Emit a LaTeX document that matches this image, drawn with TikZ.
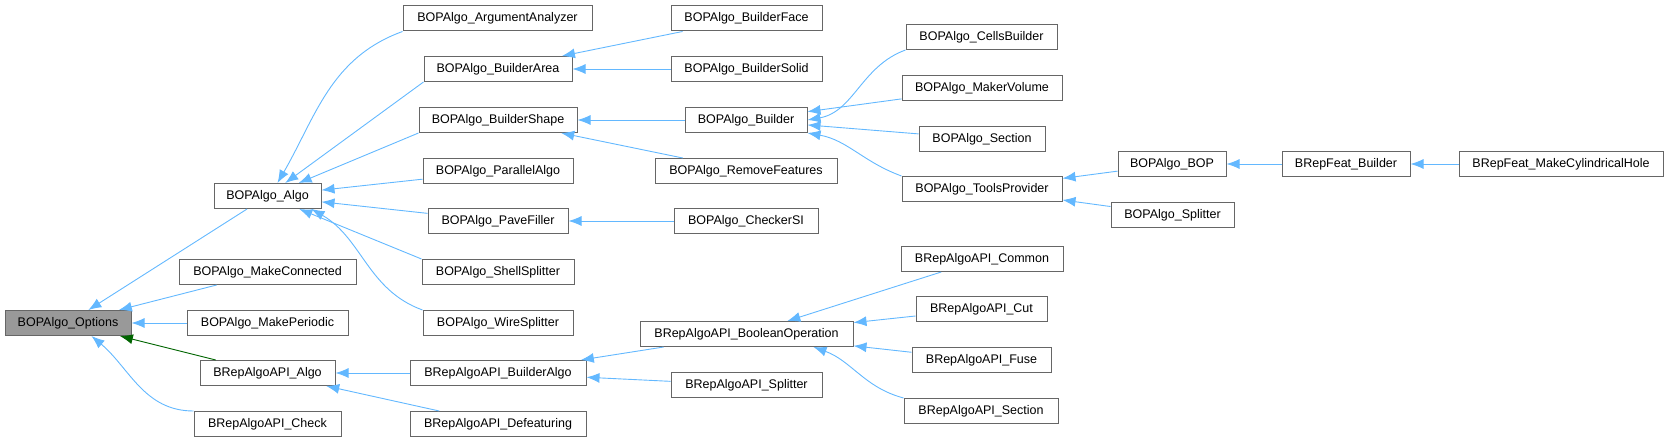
\documentclass[tikz,border=0pt]{standalone}
\usepackage{fontspec}
\setmainfont{Liberation Sans}
\usetikzlibrary{arrows.meta}
\definecolor{edgeblue}{HTML}{63B8FF}
\definecolor{edgegreen}{HTML}{006400}
\definecolor{boxline}{HTML}{666666}
\newcommand\mybox[6][]{\node[bx,#1,minimum width={(#4-#3)*1pt}] (#2) at ({(#3+#4)/2},#5) {#6};}
\begin{document}
\begin{tikzpicture}[x=1pt,y=-1pt,
  bx/.style={draw=boxline,line width=1pt,fill=white,minimum height=25pt,inner sep=0pt,font=\fontsize{12.5}{14}\selectfont},
  e/.style={draw=edgeblue,line width=0.9pt,{Latex[length=13pt,width=10pt]}-},
  g/.style={draw=edgegreen,line width=0.9pt,{Latex[length=13pt,width=10pt]}-}]
\useasboundingbox (0,0) rectangle (1669,443);
\mybox[fill=gray!80]{opt}{5}{131}{323}{BOPAlgo\_Options}
\mybox{algo}{214}{321}{196}{BOPAlgo\_Algo}
\mybox{mc}{179}{356}{272}{BOPAlgo\_MakeConnected}
\mybox{mp}{187}{348}{323}{BOPAlgo\_MakePeriodic}
\mybox{apialgo}{200}{335}{373}{BRepAlgoAPI\_Algo}
\mybox{chk}{194}{341}{424}{BRepAlgoAPI\_Check}
\mybox{arg}{403}{592}{18.5}{BOPAlgo\_ArgumentAnalyzer}
\mybox{barea}{424}{572}{69}{BOPAlgo\_BuilderArea}
\mybox{bshape}{419}{577}{120}{BOPAlgo\_BuilderShape}
\mybox{par}{423}{573}{171}{BOPAlgo\_ParallelAlgo}
\mybox{pf}{428}{568}{221}{BOPAlgo\_PaveFiller}
\mybox{shell}{422}{574}{272}{BOPAlgo\_ShellSplitter}
\mybox{wire}{423}{573}{323}{BOPAlgo\_WireSplitter}
\mybox{balgo}{410}{586}{373}{BRepAlgoAPI\_BuilderAlgo}
\mybox{def}{410}{586}{424}{BRepAlgoAPI\_Defeaturing}
\mybox{bface}{671}{822}{18.5}{BOPAlgo\_BuilderFace}
\mybox{bsolid}{671}{822}{69}{BOPAlgo\_BuilderSolid}
\mybox{builder}{685}{807}{120}{BOPAlgo\_Builder}
\mybox{rf}{655}{837}{171}{BOPAlgo\_RemoveFeatures}
\mybox{csi}{674}{818}{221}{BOPAlgo\_CheckerSI}
\mybox{cells}{906}{1057}{37}{BOPAlgo\_CellsBuilder}
\mybox{mv}{902}{1062}{88}{BOPAlgo\_MakerVolume}
\mybox{sec}{919}{1045}{139}{BOPAlgo\_Section}
\mybox{tp}{902}{1062}{189}{BOPAlgo\_ToolsProvider}
\mybox{bool}{640}{853}{334}{BRepAlgoAPI\_BooleanOperation}
\mybox{apisp}{671}{822}{385}{BRepAlgoAPI\_Splitter}
\mybox{com}{901}{1063}{259}{BRepAlgoAPI\_Common}
\mybox{cut}{916}{1047}{309}{BRepAlgoAPI\_Cut}
\mybox{fuse}{912}{1051}{360}{BRepAlgoAPI\_Fuse}
\mybox{asec}{904}{1058}{411}{BRepAlgoAPI\_Section}
\mybox{bop}{1118}{1226}{164}{BOPAlgo\_BOP}
\mybox{spl}{1111}{1234}{215}{BOPAlgo\_Splitter}
\mybox{feat}{1282}{1410}{164}{BRepFeat\_Builder}
\mybox{cyl}{1459}{1663}{164}{BRepFeat\_MakeCylindricalHole}
% edges
\draw[e] (opt) -- (algo);
\draw[e] (opt) -- (mc);
\draw[e] (opt) -- (mp);
\draw[g] (opt) -- (apialgo);
\draw[e] (opt.south east) ++(-40,0) to[out=-40,in=180] (chk.north west);
\draw[e] (algo.north) ++(10,0) to[out=60,in=200] (arg.south west);
\draw[e] (algo) -- (barea.south west);
\draw[e] (algo) -- (bshape.south west);
\draw[e] (algo) -- (par);
\draw[e] (algo) -- (pf);
\draw[e] (algo) -- (shell.north west);
\draw[e] (algo.south east) ++(-10,0) to[out=-30,in=160] (wire.north west);
\draw[e] (barea) -- (bface);
\draw[e] (barea) -- (bsolid);
\draw[e] (bshape) -- (builder);
\draw[e] (bshape) -- (rf);
\draw[e] (pf) -- (csi);
\draw[e] (builder.east) to[out=10,in=200] (cells.south west);
\draw[e] (builder) -- (mv);
\draw[e] (builder) -- (sec);
\draw[e] (builder.south east) to[out=-10,in=160] (tp.north west);
\draw[e] (tp) -- (bop);
\draw[e] (tp) -- (spl);
\draw[e] (bop) -- (feat);
\draw[e] (feat) -- (cyl);
\draw[e] (apialgo) -- (balgo);
\draw[e] (apialgo) -- (def);
\draw[e] (balgo) -- (bool);
\draw[e] (balgo) -- (apisp);
\draw[e] (bool) -- (com);
\draw[e] (bool) -- (cut);
\draw[e] (bool) -- (fuse);
\draw[e] (bool.south east) ++(-40,0) to[out=-20,in=165] (asec.north west);
\end{tikzpicture}
\end{document}
